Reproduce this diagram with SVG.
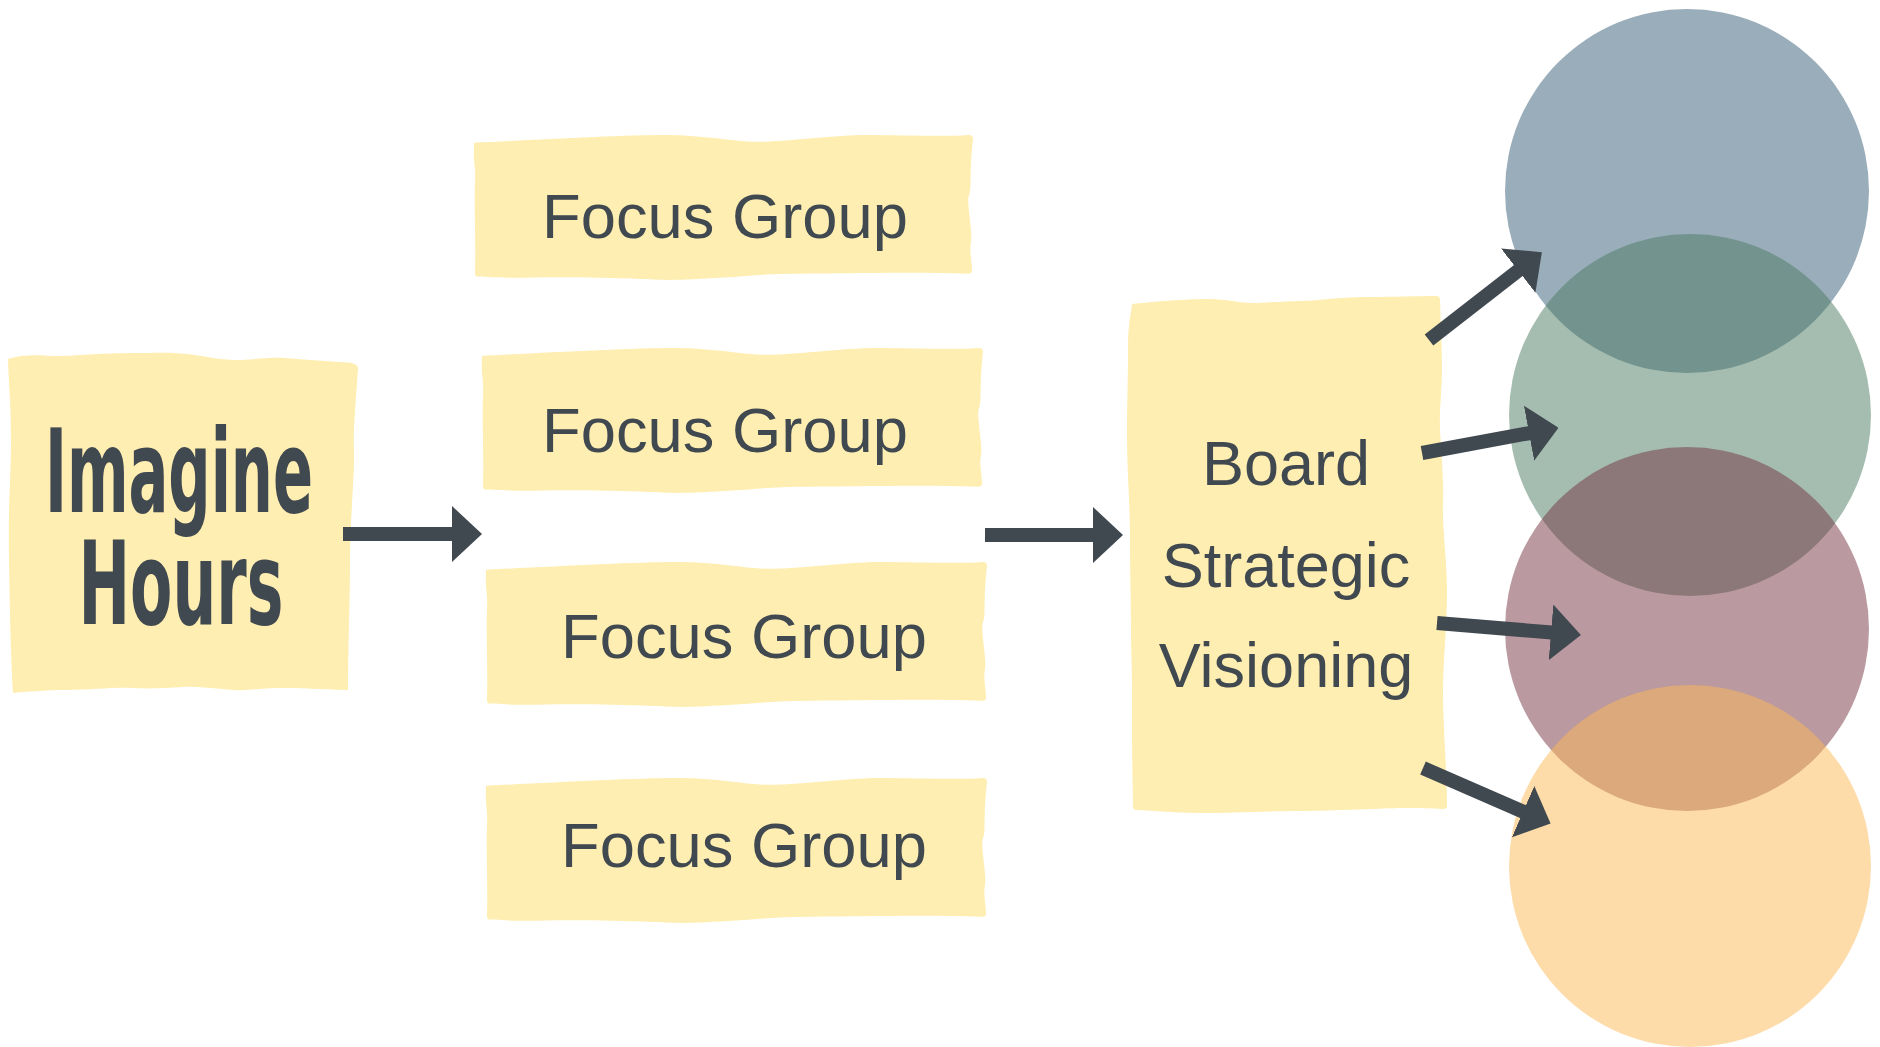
<svg xmlns="http://www.w3.org/2000/svg" width="1880" height="1047" viewBox="0 0 1880 1047">
  <style>
    .note { fill: #FEEEB1; }
    .lbl { font-family: "Liberation Sans", Arial, sans-serif; fill: #404850; text-anchor: middle; }
    .title { font-family: "Liberation Sans Narrow", "DejaVu Sans Condensed", "Liberation Sans", sans-serif; font-weight: bold; fill: #404850; text-anchor: middle; }
    .conn { stroke: #404850; stroke-width: 14; fill: none; stroke-linecap: butt; marker-end: url(#head); }
    .circ { opacity: 0.5; }
  </style>
  <defs>
    <marker id="head" markerUnits="userSpaceOnUse" markerWidth="30" markerHeight="56" viewBox="0 0 30 56" refX="1" refY="28" orient="auto">
      <path d="M0,0 L30,28 L0,56 Z" fill="#404850"/>
    </marker>
    <path id="fgShape" d="M0,8 C60,5 150,0 190,0 S255,6 280,7 S360,0 395,0 S470,2 497,0 Q501,0 501,4 C497,40 500,55 497,62 S501,100 499,110 S500,130 500,140 Q500,143 496,143 C440,141 370,143 330,143 S280,145 250,147 S200,150 180,149 S90,146 60,147 S10,146 4,146 Q1,146 1,142 C2,110 0,70 1,50 S-1,30 0,12 L0,8 Z"/>
  </defs>

  <g id="imagine-hours">
    <path class="note" d="M8,359 C25,353 45,356 60,356 S100,353 130,353 S170,352 187,354 S220,360 235,360 S270,357 285,358 S320,361 340,362 Q357,362 358,368 C356,400 353,430 354,450 S350,520 350,560 S348,650 348,690 C320,689 300,688 280,688 S250,691 233,690 S200,686 183,687 S150,689 133,688 S90,690 67,690 S25,692 13,693 C11,660 10,620 9,560 S11,480 11,440 S9,390 8,359 Z"/>
    <text class="title" font-size="115"><tspan x="179" y="512" textLength="268" lengthAdjust="spacingAndGlyphs">Imagine</tspan><tspan x="181" y="624" textLength="205" lengthAdjust="spacingAndGlyphs">Hours</tspan></text>
  </g>

  <g id="focus-group-1">
    <use href="#fgShape" class="note" transform="translate(474,135) scale(0.996,0.97)"/>
    <text class="lbl" x="725" y="238" font-size="63.3">Focus Group</text>
  </g>
  <g id="focus-group-2">
    <use href="#fgShape" class="note" transform="translate(482,348) scale(1,0.97)"/>
    <text class="lbl" x="725" y="452" font-size="63.3">Focus Group</text>
  </g>
  <g id="focus-group-3">
    <use href="#fgShape" class="note" transform="translate(486,562) scale(1,0.97)"/>
    <text class="lbl" x="744" y="658" font-size="63.3">Focus Group</text>
  </g>
  <g id="focus-group-4">
    <use href="#fgShape" class="note" transform="translate(486,778) scale(1,0.97)"/>
    <text class="lbl" x="744" y="867" font-size="63.3">Focus Group</text>
  </g>

  <g id="board-strategic-visioning">
    <path class="note" d="M1132,304 C1170,300 1195,299 1210,299 S1240,303 1253,303 S1285,301 1300,301 S1340,297 1367,297 S1420,296 1436,296 Q1440,296 1440,300 C1441,330 1442,350 1442,370 S1439,410 1440,430 S1444,480 1443,503 S1447,560 1447,593 S1443,660 1443,693 S1447,770 1447,806 Q1447,809 1443,809 C1420,808 1410,808 1400,808 S1330,811 1300,811 S1230,813 1200,813 S1150,810 1136,810 Q1133,810 1133,806 C1132,760 1132,720 1132,693 S1131,650 1131,627 S1130,570 1130,537 S1127,470 1127,437 S1128,380 1128,353 S1130,320 1132,304 Z"/>
    <text class="lbl" x="1286" y="485" font-size="63">Board</text>
    <text class="lbl" x="1286" y="587" font-size="63">Strategic</text>
    <text class="lbl" x="1286" y="687" font-size="63">Visioning</text>
  </g>

  <g id="outcome-circles">
    <circle id="circle-1" class="circ" cx="1687" cy="191" r="182" fill="#355B75"/>
    <circle id="circle-2" class="circ" cx="1690" cy="415" r="181" fill="#4B7B61"/>
    <circle id="circle-3" class="circ" cx="1687" cy="629" r="182" fill="#753341"/>
    <circle id="circle-4" class="circ" cx="1690" cy="866" r="181" fill="#FBB955"/>
  </g>

  <g id="connectors">
    <line class="conn" x1="343" y1="534" x2="453" y2="534"/>
    <line class="conn" x1="985" y1="535" x2="1094" y2="535"/>
    <line class="conn" x1="1429" y1="340" x2="1519" y2="270"/>
    <line class="conn" x1="1422" y1="453" x2="1530" y2="433"/>
    <line class="conn" x1="1437" y1="623" x2="1552" y2="632.5"/>
    <line class="conn" x1="1423" y1="768" x2="1524" y2="812"/>
  </g>
</svg>
